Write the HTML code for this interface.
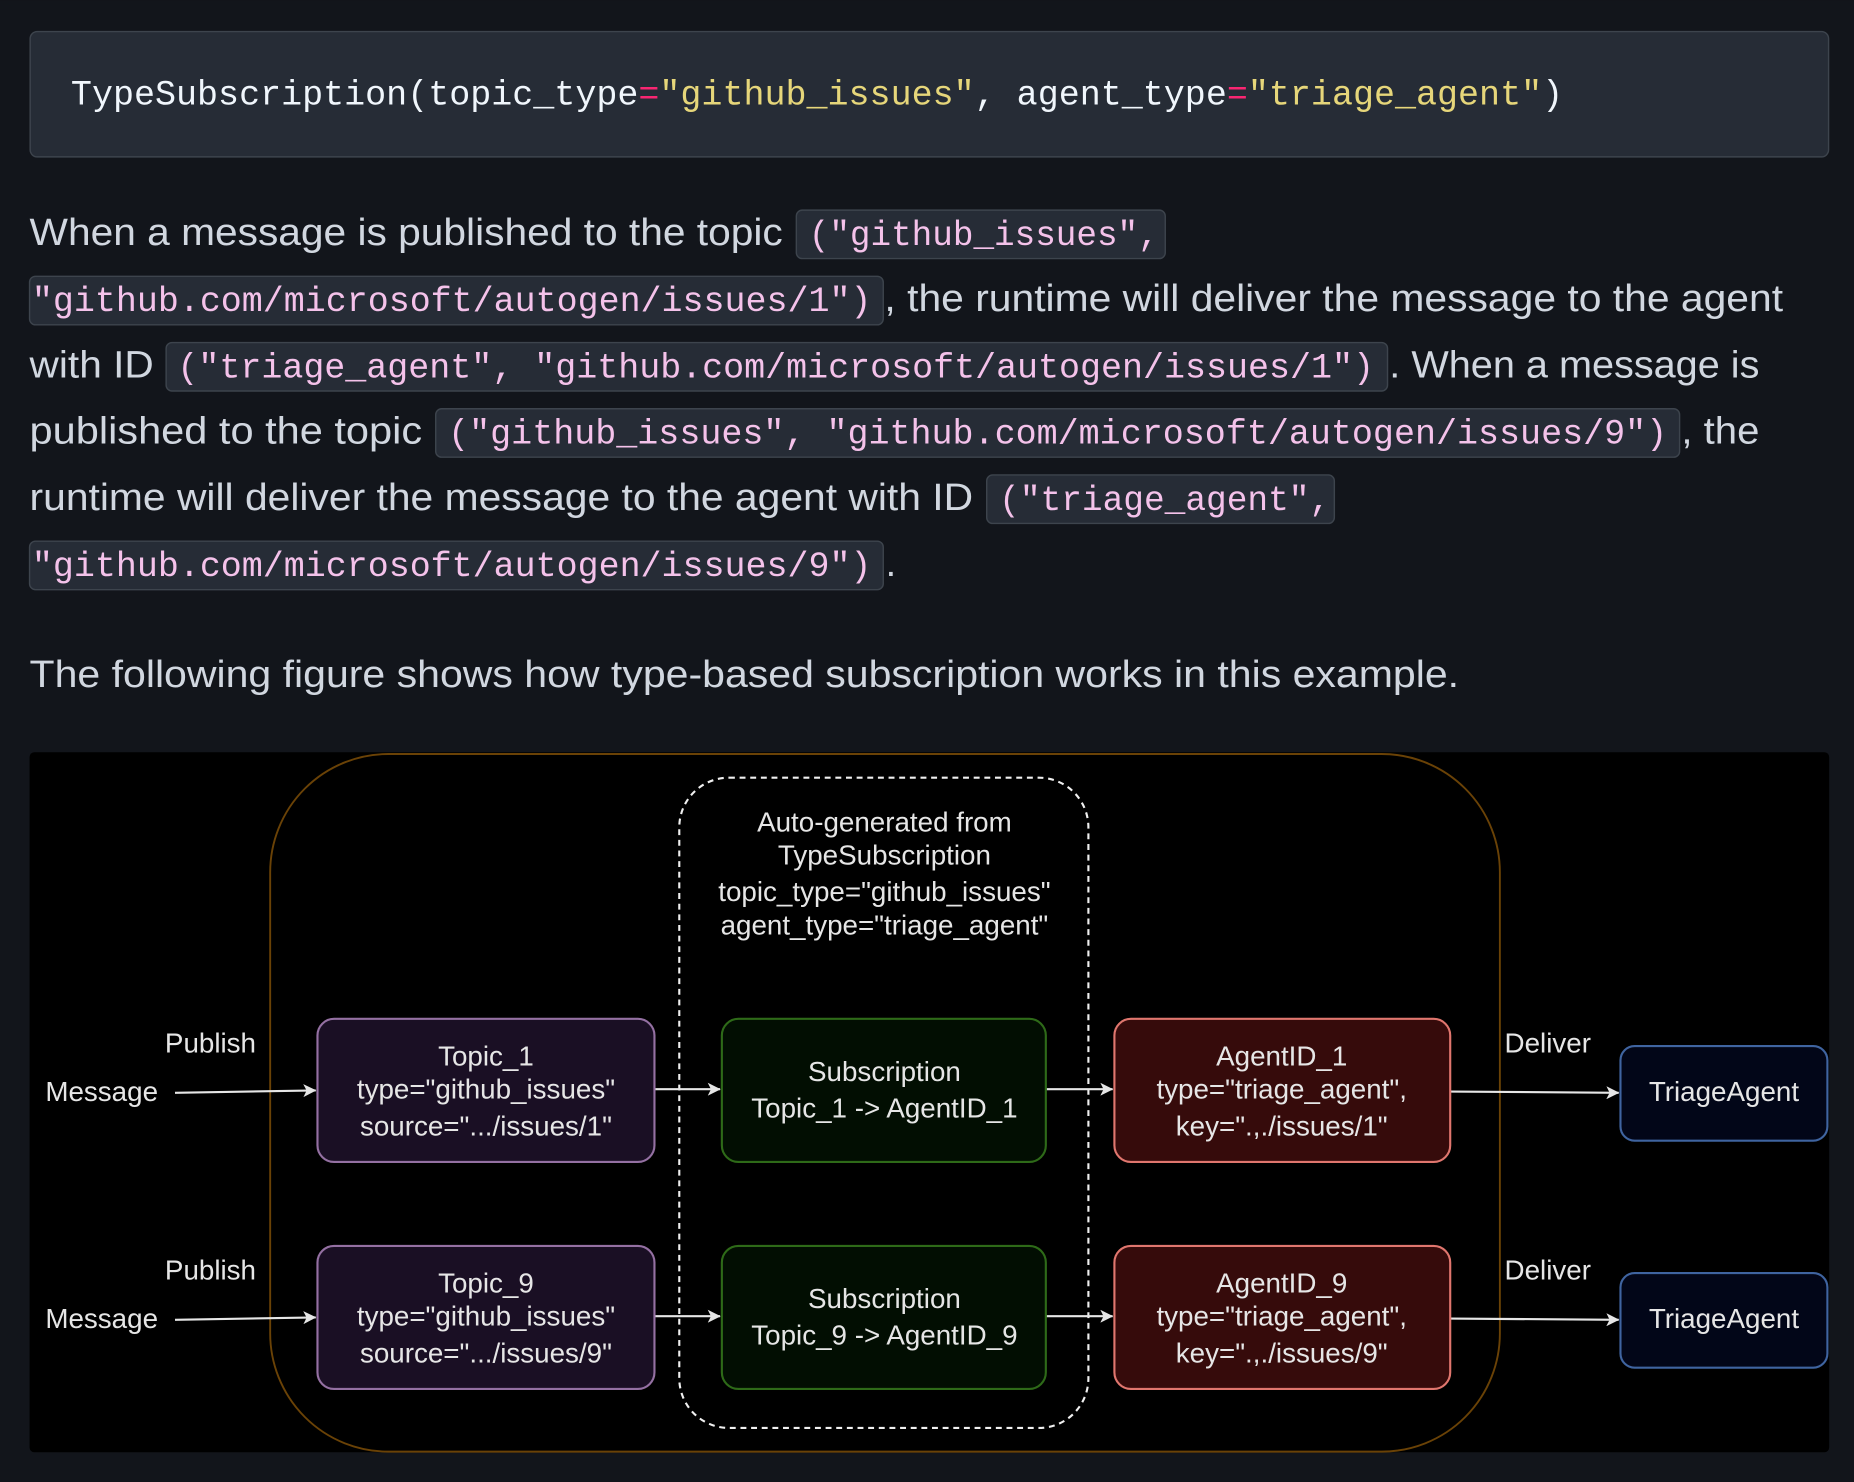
<!DOCTYPE html>
<html><head><meta charset="utf-8"><style>
html,body{margin:0;padding:0;background:#12151b;width:1854px;height:1482px;overflow:hidden}
svg{display:block}
.b{font-family:"Liberation Sans",Arial,sans-serif;font-size:32px;fill:#d1d7e0}
.m{font-family:"Liberation Mono",monospace;font-size:29.6px;fill:#f4c2ea}
.cb{fill:#262c36;stroke:#3d444d;stroke-width:1.2}
.d{font-family:"Liberation Sans",Arial,sans-serif;font-size:23.5px;fill:#e6e6e6;text-anchor:middle}
.a{stroke:#e6e6e6;stroke-width:1.8;fill:none}
</style></head><body>
<svg width="1854" height="1482" viewBox="0 0 1568 1253" xmlns="http://www.w3.org/2000/svg">
<defs>
<marker id="ar" viewBox="0 0 20 20" refX="19" refY="10" markerWidth="11" markerHeight="11" markerUnits="userSpaceOnUse" orient="auto">
<path d="M0,0 L20,10 L0,20 L5,10 Z" fill="#e6e6e6"/>
</marker>
</defs>
<rect width="1568" height="1253" fill="#12151b"/>
<!-- code block -->
<rect x="25.5" y="26.5" width="1521" height="106" rx="6" fill="#262c36" stroke="#3d444d" stroke-width="1.2"/>
<text x="60" y="88" style="font-family:'Liberation Mono',monospace;font-size:29.6px" textLength="1262" lengthAdjust="spacingAndGlyphs"><tspan fill="#f0f6fc">TypeSubscription(topic_type</tspan><tspan fill="#f92672">=</tspan><tspan fill="#e6d67a">"github_issues"</tspan><tspan fill="#f0f6fc">, agent_type</tspan><tspan fill="#f92672">=</tspan><tspan fill="#e6d67a">"triage_agent"</tspan><tspan fill="#f0f6fc">)</tspan></text>

<!-- paragraph -->
<rect class="cb" x="673.5" y="177.5" width="312" height="41" rx="5"/>
<rect class="cb" x="25" y="233.5" width="722" height="41" rx="5"/>
<rect class="cb" x="140.5" y="289.5" width="1033" height="41" rx="5"/>
<rect class="cb" x="368.5" y="345.5" width="1052" height="41" rx="5"/>
<rect class="cb" x="834.5" y="401.5" width="294" height="41" rx="5"/>
<rect class="cb" x="25" y="457.5" width="722" height="41" rx="5"/>

<text class="b" x="25" y="207" textLength="637" lengthAdjust="spacingAndGlyphs">When a message is published to the topic</text>
<text class="m" x="684" y="207" textLength="296" lengthAdjust="spacingAndGlyphs">("github_issues",</text>

<text class="m" x="27" y="263" textLength="710" lengthAdjust="spacingAndGlyphs">"github.com/microsoft/autogen/issues/1")</text>
<text class="b" x="748" y="263" textLength="760" lengthAdjust="spacingAndGlyphs">, the runtime will deliver the message to the agent</text>

<text class="b" x="25" y="319" textLength="105" lengthAdjust="spacingAndGlyphs">with ID</text>
<text class="m" x="150" y="319" textLength="1012" lengthAdjust="spacingAndGlyphs">("triage_agent", "github.com/microsoft/autogen/issues/1")</text>
<text class="b" x="1175" y="319" textLength="313" lengthAdjust="spacingAndGlyphs">. When a message is</text>

<text class="b" x="25" y="375" textLength="332" lengthAdjust="spacingAndGlyphs">published to the topic</text>
<text class="m" x="379" y="375" textLength="1031" lengthAdjust="spacingAndGlyphs">("github_issues", "github.com/microsoft/autogen/issues/9")</text>
<text class="b" x="1422" y="375" textLength="66" lengthAdjust="spacingAndGlyphs">, the</text>

<text class="b" x="25" y="431" textLength="798" lengthAdjust="spacingAndGlyphs">runtime will deliver the message to the agent with ID</text>
<text class="m" x="845" y="431" textLength="280" lengthAdjust="spacingAndGlyphs">("triage_agent",</text>

<text class="m" x="27" y="487" textLength="710" lengthAdjust="spacingAndGlyphs">"github.com/microsoft/autogen/issues/9")</text>
<text class="b" x="749" y="487">.</text>

<text class="b" x="25" y="581" textLength="1209" lengthAdjust="spacingAndGlyphs">The following figure shows how type-based subscription works in this example.</text>

<!-- diagram -->
<rect x="25" y="636" width="1522" height="592" rx="4" fill="#000"/>
<rect x="228.5" y="637.5" width="1040" height="590" rx="100" fill="none" stroke="#6a4206" stroke-width="1.6"/>
<rect x="574.5" y="657.5" width="346" height="550" rx="42" fill="none" stroke="#f0f0f0" stroke-width="1.8" stroke-dasharray="5,4"/>
<text class="d" x="748" y="703">Auto-generated from</text>
<text class="d" x="748" y="731">TypeSubscription</text>
<text class="d" x="748" y="762">topic_type="github_issues"</text>
<text class="d" x="748" y="790">agent_type="triage_agent"</text>

<g id="row">
<text class="d" x="178" y="890">Publish</text>
<text class="d" x="86" y="931">Message</text>
<text class="d" x="1309" y="890">Deliver</text>
<line class="a" x1="148" y1="924" x2="267" y2="922" marker-end="url(#ar)"/>
<line class="a" x1="554" y1="921" x2="609" y2="921" marker-end="url(#ar)"/>
<line class="a" x1="885" y1="921" x2="941" y2="921" marker-end="url(#ar)"/>
<line class="a" x1="1227" y1="923" x2="1369" y2="924" marker-end="url(#ar)"/>
<rect x="268.5" y="861.5" width="285" height="121" rx="14" fill="#1a0f24" stroke="#9470a2" stroke-width="1.8"/>
<rect x="610.5" y="861.5" width="274" height="121" rx="14" fill="#020e02" stroke="#2e6a18" stroke-width="1.8"/>
<rect x="942.5" y="861.5" width="284" height="121" rx="14" fill="#360b0b" stroke="#e0766e" stroke-width="1.8"/>
<rect x="1370.5" y="884.5" width="175" height="80" rx="12" fill="#020618" stroke="#3f64a0" stroke-width="1.8"/>
</g>
<g transform="translate(0,192)">
<text class="d" x="178" y="890">Publish</text>
<text class="d" x="86" y="931">Message</text>
<text class="d" x="1309" y="890">Deliver</text>
<line class="a" x1="148" y1="924" x2="267" y2="922" marker-end="url(#ar)"/>
<line class="a" x1="554" y1="921" x2="609" y2="921" marker-end="url(#ar)"/>
<line class="a" x1="885" y1="921" x2="941" y2="921" marker-end="url(#ar)"/>
<line class="a" x1="1227" y1="923" x2="1369" y2="924" marker-end="url(#ar)"/>
<rect x="268.5" y="861.5" width="285" height="121" rx="14" fill="#1a0f24" stroke="#9470a2" stroke-width="1.8"/>
<rect x="610.5" y="861.5" width="274" height="121" rx="14" fill="#020e02" stroke="#2e6a18" stroke-width="1.8"/>
<rect x="942.5" y="861.5" width="284" height="121" rx="14" fill="#360b0b" stroke="#e0766e" stroke-width="1.8"/>
<rect x="1370.5" y="884.5" width="175" height="80" rx="12" fill="#020618" stroke="#3f64a0" stroke-width="1.8"/>
</g>

<text class="d" x="411" y="901">Topic_1</text>
<text class="d" x="411" y="929">type="github_issues"</text>
<text class="d" x="411" y="960">source=".../issues/1"</text>
<text class="d" x="748" y="914">Subscription</text>
<text class="d" x="748" y="945">Topic_1 -&gt; AgentID_1</text>
<text class="d" x="1084" y="901">AgentID_1</text>
<text class="d" x="1084" y="929">type="triage_agent",</text>
<text class="d" x="1084" y="960">key=".,./issues/1"</text>
<text class="d" x="1458" y="931">TriageAgent</text>

<text class="d" x="411" y="1093">Topic_9</text>
<text class="d" x="411" y="1121">type="github_issues"</text>
<text class="d" x="411" y="1152">source=".../issues/9"</text>
<text class="d" x="748" y="1106">Subscription</text>
<text class="d" x="748" y="1137">Topic_9 -&gt; AgentID_9</text>
<text class="d" x="1084" y="1093">AgentID_9</text>
<text class="d" x="1084" y="1121">type="triage_agent",</text>
<text class="d" x="1084" y="1152">key=".,./issues/9"</text>
<text class="d" x="1458" y="1123">TriageAgent</text>
</svg>
</body></html>
